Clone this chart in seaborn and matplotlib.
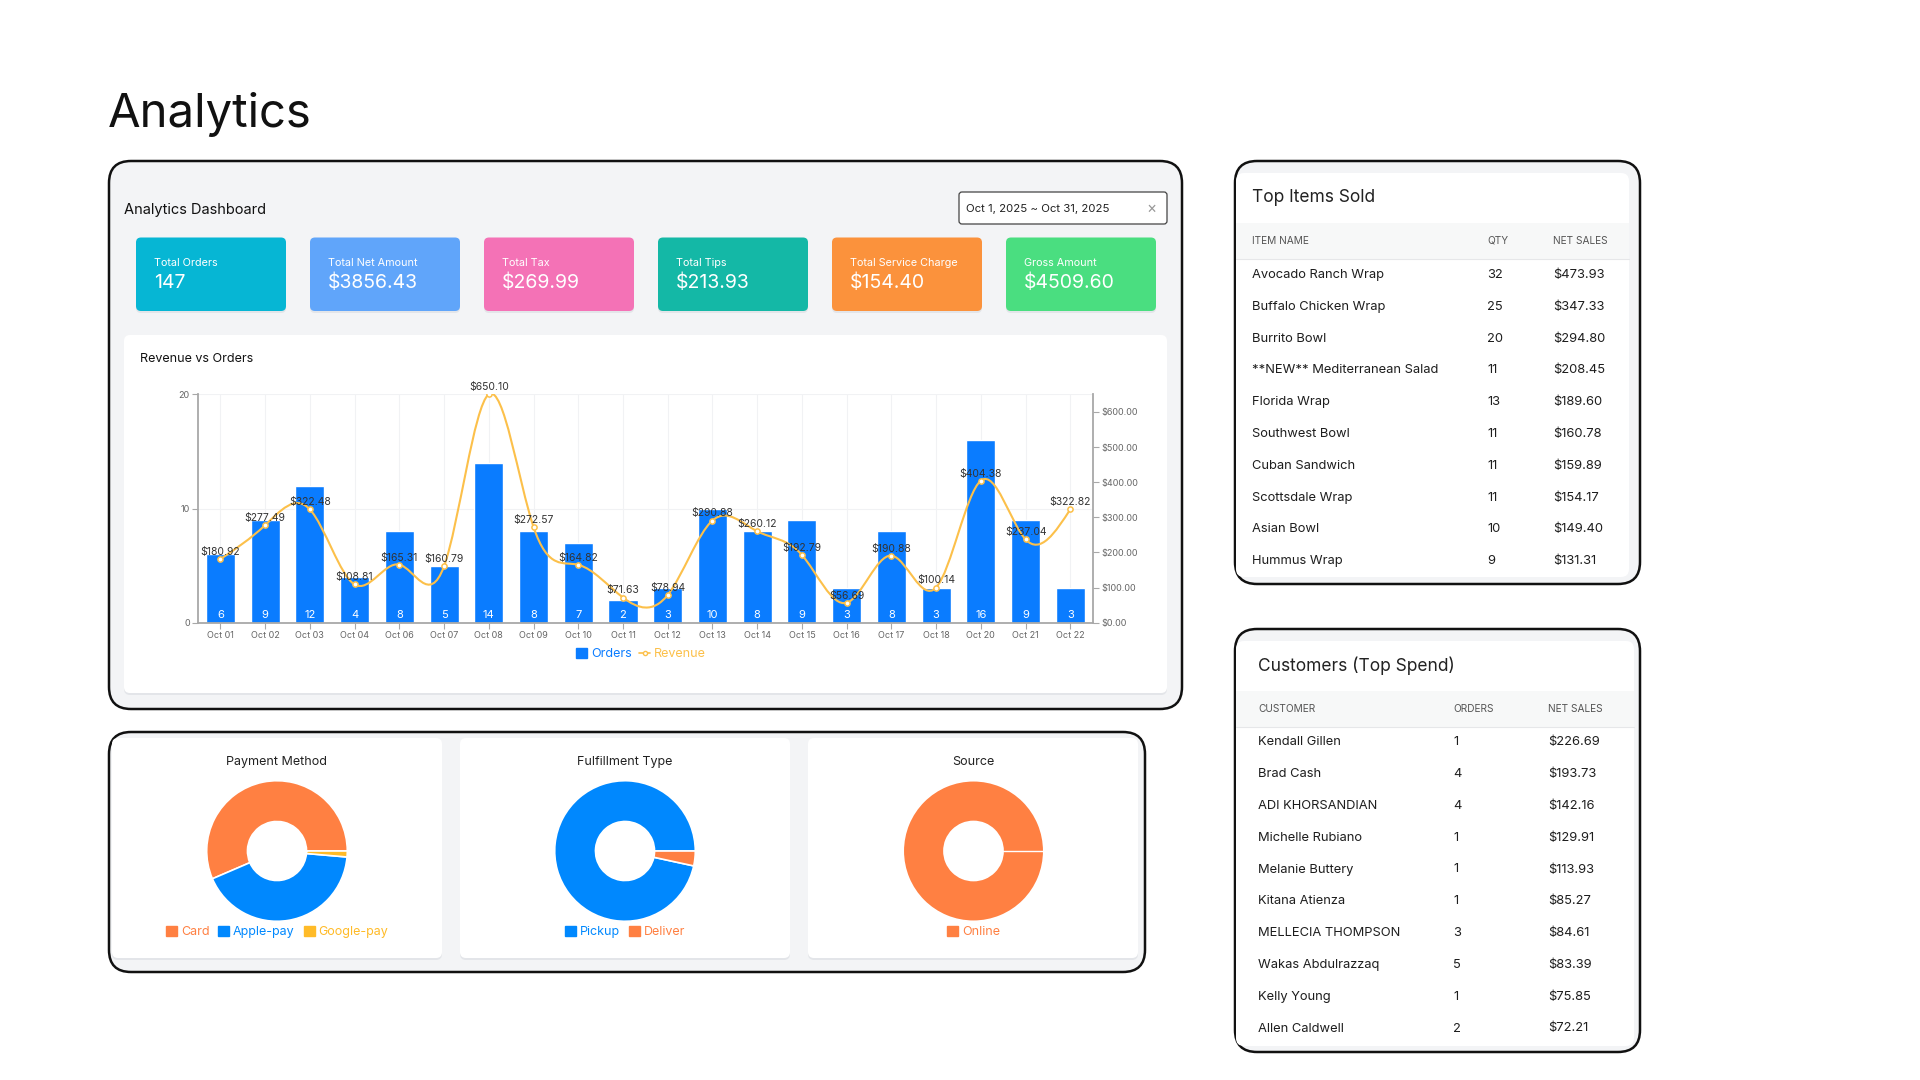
import matplotlib
matplotlib.use("Agg")
import matplotlib.pyplot as plt
import numpy as np
import pandas as pd
import seaborn as sns
from matplotlib.patches import FancyBboxPatch, PathPatch, Patch
from matplotlib.lines import Line2D
from matplotlib.path import Path

# ---- data ----
days = ["Oct 01", "Oct 02", "Oct 03", "Oct 04", "Oct 06", "Oct 07", "Oct 08", "Oct 09", "Oct 10", "Oct 11",
        "Oct 12", "Oct 13", "Oct 14", "Oct 15", "Oct 16", "Oct 17", "Oct 18", "Oct 20", "Oct 21", "Oct 22"]
orders = [6, 9, 12, 4, 8, 5, 14, 8, 7, 2, 3, 10, 8, 9, 3, 8, 3, 16, 9, 3]
revenue = [180.92, 277.49, 322.48, 108.81, 165.31, 160.79, 650.10, 272.57, 164.82, 71.63,
           78.94, 290.88, 260.12, 192.79, 56.69, 190.88, 100.14, 404.38, 237.04, 322.82]

kpi_labels = ["Total Orders", "Total Net Amount", "Total Tax", "Total Tips", "Total Service Charge", "Gross Amount"]
kpi_values = ["147", "$3856.43", "$269.99", "$213.93", "$154.40", "$4509.60"]
kpi_colors = ["#06b6d4", "#60a5fa", "#f472b6", "#14b8a6", "#fb923c", "#4ade80"]

item_names = ["Avocado Ranch Wrap", "Buffalo Chicken Wrap", "Burrito Bowl", "**NEW** Mediterranean Salad",
              "Florida Wrap", "Southwest Bowl", "Cuban Sandwich", "Scottsdale Wrap", "Asian Bowl", "Hummus Wrap"]
item_qty = [32, 25, 20, 11, 13, 11, 11, 11, 10, 9]
item_sales = [473.93, 347.33, 294.80, 208.45, 189.60, 160.78, 159.89, 154.17, 149.40, 131.31]

customer_names = ["Kendall Gillen", "Brad Cash", "ADI KHORSANDIAN", "Michelle Rubiano", "Melanie Buttery",
                  "Kitana Atienza", "MELLECIA THOMPSON", "Wakas Abdulrazzaq", "Kelly Young", "Allen Caldwell"]
customer_orders = [1, 4, 4, 1, 1, 1, 3, 5, 1, 2]
customer_sales = [226.69, 193.73, 142.16, 129.91, 113.93, 85.27, 84.61, 83.39, 75.85, 72.21]

pay_labels = ["Card", "Apple-pay", "Google-pay"]
pay_counts = [83, 62, 2]
ful_labels = ["Pickup", "Deliver"]
ful_counts = [142, 5]
src_labels = ["Online"]
src_counts = [147]

BLUE = "#0088FE"
ORANGE = "#FF8042"
YELLOW = "#FFBB28"
BAR = "#0a7cff"
LINE = "#fcc04a"

W, H = 1920, 1080

sns.set_theme(style="white")
plt.rcParams["font.family"] = ["Inter", "DejaVu Sans"]

fig = plt.figure(figsize=(19.2, 10.8), dpi=100)
fig.patch.set_facecolor("white")
bg = fig.add_axes([0, 0, 1, 1])
bg.set_xlim(0, W)
bg.set_ylim(H, 0)
bg.axis("off")


def box(x0, y0, x1, y1, fc, ec="none", lw=0, r=6, z=1):
    bg.add_patch(FancyBboxPatch((x0, y0), x1 - x0, y1 - y0,
                                boxstyle=f"round,pad=0,rounding_size={r}",
                                fc=fc, ec=ec, lw=lw, zorder=z))


def card(x0, y0, x1, y1, fc="white", r=6, z=2):
    # soft shadow then card
    box(x0, y0 + 2, x1, y1 + 2, "#e3e5e9", r=r, z=z)
    box(x0, y0, x1, y1, fc, r=r, z=z + 0.1)


def fax(x0, y0, x1, y1):
    return fig.add_axes([x0 / W, 1 - y1 / H, (x1 - x0) / W, (y1 - y0) / H])


# ---- title ----
bg.text(108, 127, "Analytics", fontsize=34, color="#111", va="baseline", ha="left")

# ---- outer panels ----
box(109, 161, 1182, 709, "#f3f4f6", ec="#111", lw=1.8, r=22)
box(109, 732, 1145, 972, "#f3f4f6", ec="#111", lw=1.8, r=22)
box(1235, 161, 1640, 584, "#f3f4f6", ec="#111", lw=1.8, r=22)
box(1235, 629, 1640, 1052, "#f3f4f6", ec="#111", lw=1.8, r=22)

# ---- dashboard header ----
bg.text(124, 210, "Analytics Dashboard", fontsize=10.5, color="#111", va="center")
box(959, 192, 1167, 224, "white", ec="#444", lw=0.9, r=3, z=2)
bg.text(966, 208.5, "Oct 1, 2025 ~ Oct 31, 2025", fontsize=8.2, color="#222", va="center", zorder=3)
bg.text(1151, 208.5, "×", fontsize=11, color="#999", va="center", ha="center", zorder=3)

# ---- KPI cards ----
for i, (lab, val, col) in enumerate(zip(kpi_labels, kpi_values, kpi_colors)):
    x0 = 136 + 174 * i
    card(x0, 237.5, x0 + 150, 311, fc=col, r=5)
    bg.text(x0 + 18, 263, lab, fontsize=7.8, color="white", va="center", zorder=3)
    bg.text(x0 + 18, 283, val, fontsize=14, color="white", va="center", zorder=3)

# ---- revenue vs orders ----
card(124, 335, 1167, 693, r=6)
bg.text(139.5, 359, "Revenue vs Orders", fontsize=9, color="#111", va="center", zorder=3)

df = pd.DataFrame({"day": days, "orders": orders, "revenue": revenue})
n = len(days)
ax = fax(198, 394.3, 1092.7, 622.7)
ax.set_facecolor("none")
sns.barplot(data=df, x="day", y="orders", color=BAR, saturation=1, width=0.65, ax=ax, zorder=2)
ax.set_xlim(-0.5, n - 0.5)
ax.set_ylim(0, 20)
ax.set_yticks([0, 10, 20])
ax.set_xticks(range(n))
ax.set_xticklabels(days)
ax.set_xlabel("")
ax.set_ylabel("")
ax.grid(True, color="#f1f2f4", lw=0.8, zorder=0)
ax.set_axisbelow(True)
for s in ["top", "right"]:
    ax.spines[s].set_visible(False)
for s in ["left", "bottom"]:
    ax.spines[s].set_color("#a8a8a8")
    ax.spines[s].set_linewidth(1.3)
ax.tick_params(axis="both", length=4, width=0.8, color="#a8a8a8", labelsize=6.5, labelcolor="#666", pad=2)
ax.tick_params(axis="y", left=True)
ax.tick_params(axis="x", bottom=True)
for i, v in enumerate(orders):
    ax.annotate(str(v), (i, 0), xytext=(0, 5.5), textcoords="offset points",
                ha="center", va="center", fontsize=8, color="white", zorder=5)

ax2 = ax.twinx()
ax2.set_ylim(0, max(revenue))
ax2.set_yticks(range(0, 700, 100))
ax2.set_yticklabels([f"${t:.2f}" for t in range(0, 700, 100)])
for s in ["top", "left", "bottom"]:
    ax2.spines[s].set_visible(False)
ax2.spines["right"].set_color("#a8a8a8")
ax2.spines["right"].set_linewidth(1.3)
ax2.tick_params(axis="y", length=4, width=0.8, color="#a8a8a8", labelsize=6.5, labelcolor="#666", pad=2, right=True)
ax2.grid(False)

# smooth (natural spline) revenue line drawn as bezier segments through the data points
xs = np.arange(n, dtype=float)
ys = np.array(revenue, dtype=float)


def natural_ctrl(v):
    m = len(v) - 1
    a = np.zeros(m); b = np.zeros(m); r = np.zeros(m)
    a[0], b[0], r[0] = 0, 2, v[0] + 2 * v[1]
    for i in range(1, m - 1):
        a[i], b[i], r[i] = 1, 4, 4 * v[i] + 2 * v[i + 1]
    a[m - 1], b[m - 1], r[m - 1] = 2, 7, 8 * v[m - 1] + v[m]
    for i in range(1, m):
        k = a[i] / b[i - 1]
        b[i] -= k
        r[i] -= k * r[i - 1]
    a[m - 1] = r[m - 1] / b[m - 1]
    for i in range(m - 2, -1, -1):
        a[i] = (r[i] - a[i + 1]) / b[i]
    b[m - 1] = (v[m] + a[m - 1]) / 2
    for i in range(m - 1):
        b[i] = 2 * v[i + 1] - a[i + 1]
    return a, b


cx1, cx2 = natural_ctrl(xs)
cy1, cy2 = natural_ctrl(ys)
verts = [(xs[0], ys[0])]
codes = [Path.MOVETO]
for i in range(n - 1):
    verts += [(cx1[i], cy1[i]), (cx2[i], cy2[i]), (xs[i + 1], ys[i + 1])]
    codes += [Path.CURVE4] * 3
ax2.add_patch(PathPatch(Path(verts, codes), fill=False, ec=LINE, lw=1.5, zorder=3))
sns.scatterplot(x=xs, y=ys, ax=ax2, s=14, color="white", edgecolor=LINE, linewidth=1.1, zorder=4, legend=False)
for i, v in enumerate(revenue):
    ax2.annotate(f"${v:.2f}", (i, v), xytext=(0, 1.5), textcoords="offset points",
                 ha="center", va="bottom", fontsize=7.5, color="#333", zorder=6)

fig.legend(handles=[Patch(color=BAR), Line2D([0], [0], color=LINE, marker="o", mfc="white", ms=3, lw=1.2)],
           labels=["Orders", "Revenue"], loc="center", bbox_to_anchor=(641 / W, 1 - 654 / H),
           ncol=2, frameon=False, fontsize=9, handlelength=0.9, handleheight=0.9, handletextpad=0.3,
           columnspacing=0.6, labelcolor=[BAR, LINE])

# ---- donuts ----
donuts = [
    (277, "Payment Method", pay_counts, pay_labels, [ORANGE, BLUE, YELLOW]),
    (625, "Fulfillment Type", ful_counts, ful_labels, [BLUE, ORANGE]),
    (973.5, "Source", src_counts, src_labels, [ORANGE]),
]
for k, (cx, title, counts, labels, cols) in enumerate(donuts):
    x0 = 112 + 348 * k
    card(x0, 738, x0 + 330, 958, r=6)
    bg.text(cx, 762, title, fontsize=9, color="#222", ha="center", va="center", zorder=3)
    rad = 71
    pax = fax(cx - rad, 851 - rad, cx + rad, 851 + rad)
    wedges, _ = pax.pie(counts, colors=cols, startangle=0, counterclock=True,
                        wedgeprops=dict(width=0.58, edgecolor="white", linewidth=1.2))
    if len(counts) == 1:
        # seam of the single full-circle slice at its start angle
        pax.plot([0.42, 1.0], [0, 0], color="white", lw=1.0, zorder=5)
    pax.set_xlim(-1.01, 1.01)
    pax.set_ylim(-1.01, 1.01)
    fig.legend(handles=[Patch(color=c) for c in cols], labels=labels, loc="center",
               bbox_to_anchor=(cx / W, 1 - 932 / H), ncol=len(cols), frameon=False, fontsize=9,
               handlelength=0.9, handleheight=0.9, handletextpad=0.3, columnspacing=0.7, labelcolor=cols)

# ---- tables ----
def table(x0, y0, x1, y1, title, title_y, head_y0, cols_x, heads, rows, row_y0):
    box(x0, y0, x1, y1, "white", r=8, z=2)
    bg.text(cols_x[0], title_y, title, fontsize=12.5, color="#222", va="center", zorder=3)
    box(x0, head_y0, x1, head_y0 + 36, "#f7f8f8", r=0, z=2.5)
    bg.plot([x0, x1], [head_y0 + 36, head_y0 + 36], color="#e6e7e9", lw=0.8, zorder=2.6)
    for cx, h in zip(cols_x, heads):
        bg.text(cx, head_y0 + 18, h, fontsize=7.3, color="#555", va="center", zorder=3)
    for j, row in enumerate(rows):
        y = row_y0 + 31.8 * j
        for cx, val in zip(cols_x, row):
            bg.text(cx, y, val, fontsize=9.3, color="#1e1e1e", va="center", zorder=3)


table(1236, 173, 1629, 577, "Top Items Sold", 198, 223, [1252, 1487, 1553],
      ["ITEM NAME", "QTY", "NET SALES"],
      [(a, str(b), f"${c:.2f}") for a, b, c in zip(item_names, item_qty, item_sales)], 275)
table(1236, 641, 1634, 1046, "Customers (Top Spend)", 666, 691, [1258, 1453, 1548],
      ["CUSTOMER", "ORDERS", "NET SALES"],
      [(a, str(b), f"${c:.2f}") for a, b, c in zip(customer_names, customer_orders, customer_sales)], 742.3)

fig.savefig("out.png", dpi=100, facecolor="white")
